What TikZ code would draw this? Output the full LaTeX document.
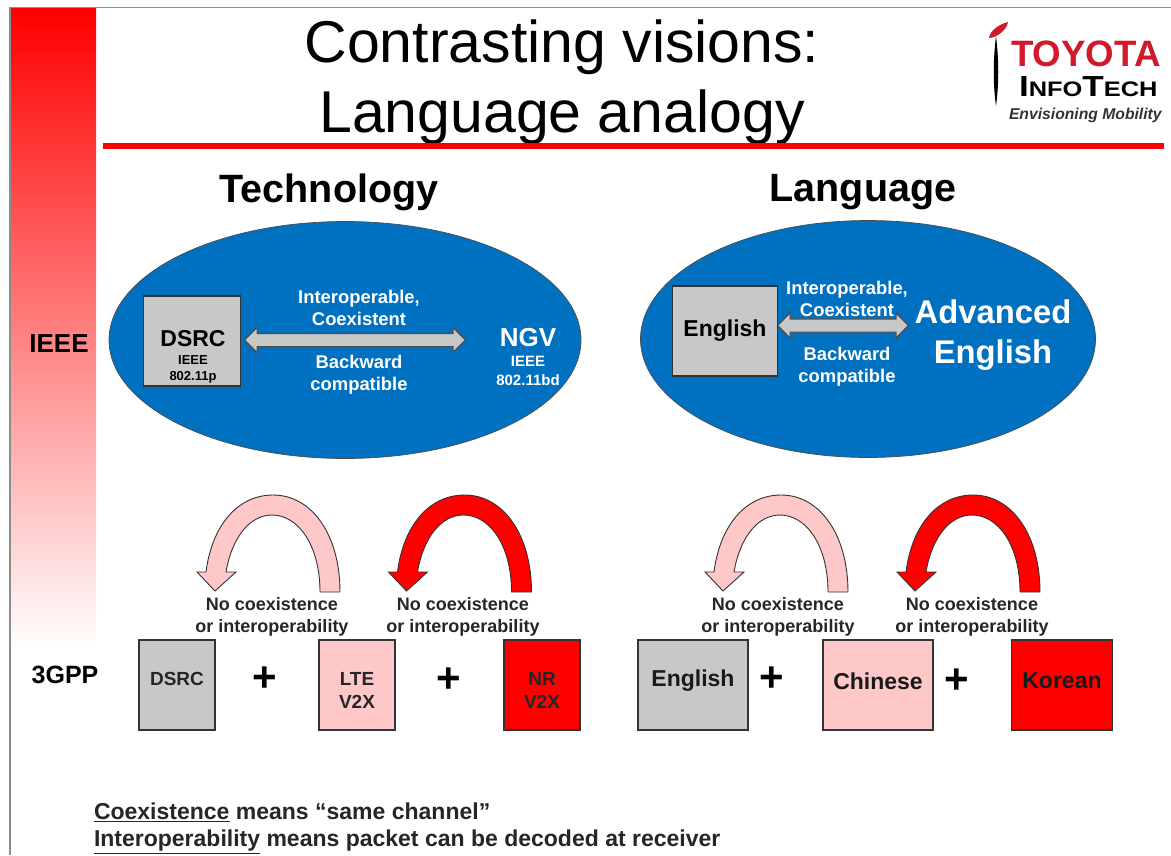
\documentclass[tikz,border=0pt]{standalone}
\usepackage{fontspec}
\setmainfont{Liberation Sans}
\usetikzlibrary{shapes.geometric,shapes.arrows}
\definecolor{ellblue}{HTML}{0070C0}
\definecolor{boxgray}{HTML}{C8C8C8}
\definecolor{pinkfill}{HTML}{FFC8C8}
\definecolor{framegray}{HTML}{8C8C8C}
\definecolor{toyred}{HTML}{D2182B}
\newcommand{\fs}[1]{\fontsize{#1}{#1}\selectfont}
\newcommand{\curvedarrow}[3]{%
  \draw[curvearrow,fill=#3] (#1+340,#2+592) .. controls (#1+340,#2+535) and (#1+312,#2+495) .. (#1+273,#2+495)
   .. controls (#1+238,#2+495) and (#1+212,#2+525) .. (#1+206,#2+572)
   -- (#1+197,#2+572) -- (#1+215,#2+591) -- (#1+236,#2+572) -- (#1+226,#2+572)
   .. controls (#1+232,#2+537) and (#1+250,#2+515) .. (#1+272,#2+515)
   .. controls (#1+298,#2+515) and (#1+320,#2+545) .. (#1+320,#2+592) -- cycle;}
\tikzset{
  x=1pt,y=-1pt,
  every node/.style={inner sep=0pt,outer sep=0pt,align=center},
  curvearrow/.style={draw=black!80,line width=0.9pt,line join=miter},
  sq/.style={draw=black!80,line width=1.3pt,font=\bfseries},
  dbl/.style={double arrow,draw=black!70,fill=boxgray,line width=1.1pt,inner ysep=6pt,inner xsep=0pt,double arrow head extend=6pt,double arrow tip angle=90,minimum width=24pt},
  head/.style={font=\fs{39.5}\bfseries},
  whitetext/.style={text=white,font=\fs{18.4}\bfseries},
  note/.style={font=\fs{18}\bfseries,text=black!85,align=center},
  plus/.style={font=\fs{42}\bfseries},
  boxlabel/.style={font=\fs{19}\bfseries,text=black!85},
  boxlabelb/.style={font=\fs{23}\bfseries,text=black!90}
}
\begin{document}
\begin{tikzpicture}
\useasboundingbox (0,0) rectangle (1171,855);
\fill[white] (0,0) rectangle (1171,855);
% frame
\draw[framegray,line width=1.2pt] (10,855) -- (10,7.5) -- (1171,7.5);
% gradient band
\shade[top color=red,bottom color=white] (11,8) rectangle (96,650);
% title
\node (t1) at (562,47) {\fs{59}Contrasting visions:};
\node (t2) at (562,117) {\fs{59}Language analogy};
\fill[red] (103,143) rectangle (1164,149);
% logo
\fill[toyred] (989,38) .. controls (990,30) and (1000,24) .. (1008,22) .. controls (1007,30) and (996,38) .. (989,38) -- cycle;
\fill[black] (996,36) .. controls (993,60) and (993,85) .. (996,106) .. controls (999,85) and (999,60) .. (996,36) -- cycle;
\node[anchor=west,text=toyred] (toy) at (1011,54) {\fs{36.7}\bfseries TOYOTA};
\node[anchor=west] (info) at (1019,87) {\scalebox{1.21}[1]{\fs{29}\bfseries I\fs{21}NFO\fs{29}T\fs{21}ECH}};
\node[anchor=west,text=black!80] (env) at (1009,115) {\fs{15.7}\bfseries\itshape Envisioning Mobility};
% headings
\node[head] (htech) at (329,192) {Technology};
\node[head] (hlang) at (863,192) {Language};
% side labels
\node[font=\fs{26}\bfseries] (ieee) at (59,344) {IEEE};
\node[font=\fs{25}\bfseries] (gpp) at (65,675) {3GPP};
% ellipses
\node[ellipse,fill=ellblue,draw=black!70,line width=0.7pt,minimum width=472pt,minimum height=237pt] (e1) at (345,340) {};
\node[ellipse,fill=ellblue,draw=black!70,line width=0.7pt,minimum width=455pt,minimum height=237pt] (e2) at (868,339) {};
% left ellipse content
\node[sq,fill=boxgray,minimum width=97pt,minimum height=90pt] (dsrc) at (192,341) {};
\node (dsrct) at (193,339) {\fs{23}\bfseries DSRC};
\node (dsrcs) at (193,369) {\bfseries\fs{13}IEEE\\[4pt]\bfseries\fs{13}802.11p};
\node[dbl,minimum height=221pt] (a1) at (355,340) {};
\node[whitetext] (i1) at (359,308) {Interoperable,\\[3pt]Coexistent};
\node[whitetext] (b1) at (359,374.5) {Backward\\[4pt]compatible};
\node[text=white,font=\fs{26}\bfseries] (ngv) at (528,338) {NGV};
\node[text=white,font=\fs{15}\bfseries] (ngvs) at (528,371) {IEEE\\[4pt]802.11bd};
% right ellipse content
\node[sq,fill=boxgray,minimum width=105pt,minimum height=90pt] (eng) at (725,331) {};
\node (engt) at (725,331) {\fs{23}\bfseries English};
\node[dbl,minimum height=131pt] (a2) at (843,325.5) {};
\node[whitetext] (i2) at (847,299) {Interoperable,\\[3pt]Coexistent};
\node[whitetext] (b2) at (847,367) {Backward\\[4pt]compatible};
\node[text=white,font=\fs{32.8}\bfseries] (adv) at (993,335) {Advanced\\[7pt]English};
% curved arrows
\curvedarrow{0}{0}{pinkfill}
\curvedarrow{191.5}{0}{red}
\curvedarrow{508}{0}{pinkfill}
\curvedarrow{700}{0}{red}
% notes
\node[note] (n1) at (272,617) {No coexistence\\[4pt]or interoperability};
\node[note] (n2) at (463,617) {No coexistence\\[4pt]or interoperability};
\node[note] (n3) at (778,617) {No coexistence\\[4pt]or interoperability};
\node[note] (n4) at (972,617) {No coexistence\\[4pt]or interoperability};
% bottom boxes
\node[sq,fill=boxgray,minimum width=76pt,minimum height=90pt] (d3) at (177,685) {};
\node[boxlabel] (d3t) at (177,679) {DSRC};
\node[sq,fill=pinkfill,minimum width=76pt,minimum height=90pt] (l3) at (357,685) {};
\node[boxlabel] (l3t) at (357,690) {LTE\\[4pt]V2X};
\node[sq,fill=red,minimum width=76pt,minimum height=90pt] (n3b) at (542,685) {};
\node[boxlabel] (n3t) at (542,690) {NR\\[4pt]V2X};
\node[plus] (p1) at (265,679) {+};
\node[plus] (p2) at (449,680) {+};
\node[sq,fill=boxgray,minimum width=110pt,minimum height=90pt] (e3) at (693,685) {};
\node[boxlabelb] (e3t) at (693,681) {English};
\node[sq,fill=pinkfill,minimum width=110pt,minimum height=90pt] (c3) at (878,685) {};
\node[boxlabelb] (c3t) at (878,681) {Chinese};
\node[sq,fill=red,minimum width=101pt,minimum height=90pt] (k3) at (1062,685) {};
\node[boxlabelb] (k3t) at (1062,681) {Korean};
\node[plus] (p3) at (772,679) {+};
\node[plus] (p4) at (957,681) {+};
% footnotes
\node[anchor=west,font=\fs{23}\bfseries,text=black!85] (f1) at (94,812) {\underline{Coexistence} means “same channel”};
\node[anchor=west,font=\fs{23}\bfseries,text=black!85] (f2) at (94,842) {\underline{Interoperability} means packet can be decoded at receiver};
\end{tikzpicture}
\end{document}
